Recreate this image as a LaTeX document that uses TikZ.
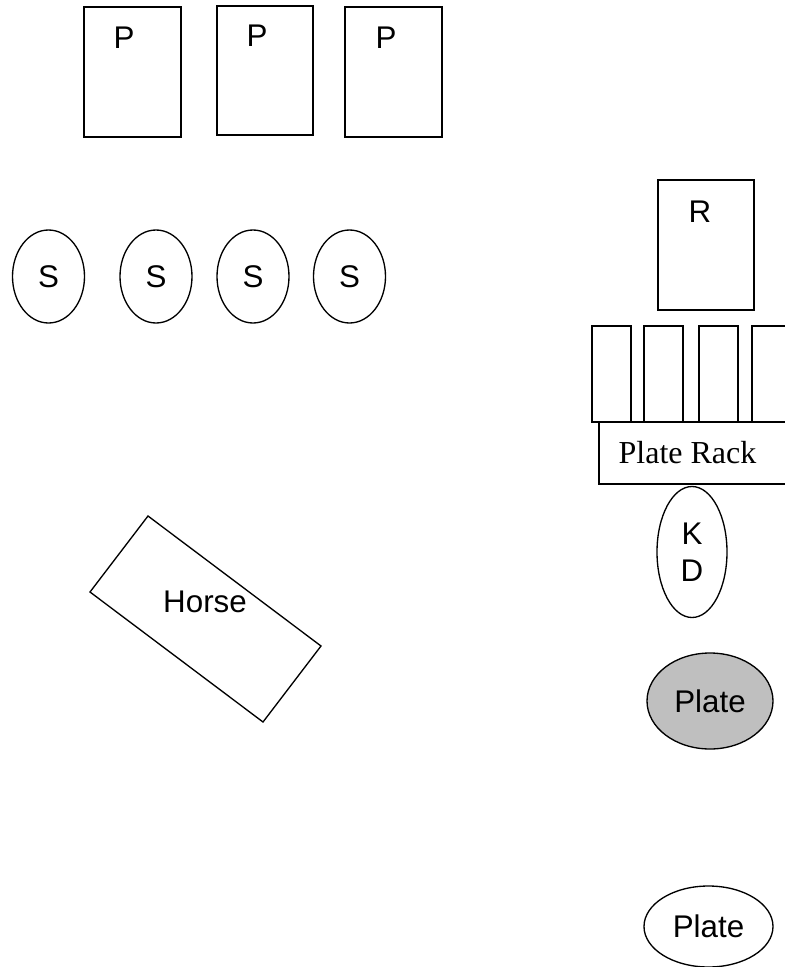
\documentclass[tikz,border=0pt]{standalone}
\usepackage{fontspec}
\setmainfont{Liberation Sans}
\newfontfamily\rackfont{Liberation Serif}
\usetikzlibrary{shapes.geometric}
\tikzset{
    plan/.style={draw, line width=1pt},
    seat/.style={plan, ellipse, inner sep=0pt, minimum width=72*0.75pt, minimum height=93*0.75pt},
    dish/.style={plan, ellipse, inner sep=0pt},
    txt/.style={inner sep=0pt, font=\fontsize{23.5}{27.75}\selectfont}
}
\begin{document}
\begin{tikzpicture}[x=0.75pt, y=-0.75pt, every node/.append style={txt}]
    \useasboundingbox (0,0) rectangle (785,967);
    % P boxes
    \draw[plan] (84,7) rectangle (181,137);
    \draw[plan] (217,6) rectangle (313,135);
    \draw[plan] (345,7) rectangle (442,137);
    \node (p1) at (124,38) {P};
    \node (p2) at (257,36) {P};
    \node (p3) at (386,38) {P};
    % S seats
    \node[seat] (s1) at (48.5,276.5) {S};
    \node[seat] (s2) at (156,276.5) {S};
    \node[seat] (s3) at (253,276.5) {S};
    \node[seat] (s4) at (349.5,276.5) {S};
    % R and the plate rack
    \draw[plan] (658,180) rectangle (754,310);
    \node (r) at (700,212) {R};
    \foreach \a/\b in {592/631, 644/683, 699/738, 752/790}{
    \draw[plan] (\a,326) rectangle (\b,422);}
    \draw[plan] (599,422) rectangle (790,484);
    \node[font=\rackfont\fontsize{24}{28}\selectfont] (rack) at (687.5,453) {Plate Rack};
    \node[plan, ellipse, inner sep=0pt, minimum width=70*0.75pt, minimum height=131*0.75pt, align=center] (kd) at (692,552) {K\\D};
    % horse
    \coordinate (h1) at (148,516);
    \coordinate (h2) at (321,646);
    \coordinate (h3) at (263,722);
    \coordinate (h4) at (90,592);
    \draw[plan] (h1) -- (h2) -- (h3) -- (h4) -- cycle;
    \node (horse) at (205,602) {Horse};
    % plates
    \node[dish, fill=black!25, minimum width=126*0.75pt, minimum height=96*0.75pt] (plate1) at (710,701) {Plate};
    \node[dish, minimum width=129*0.75pt, minimum height=81*0.75pt] (plate2) at (708.5,926.5) {Plate};
\end{tikzpicture}
\end{document}
